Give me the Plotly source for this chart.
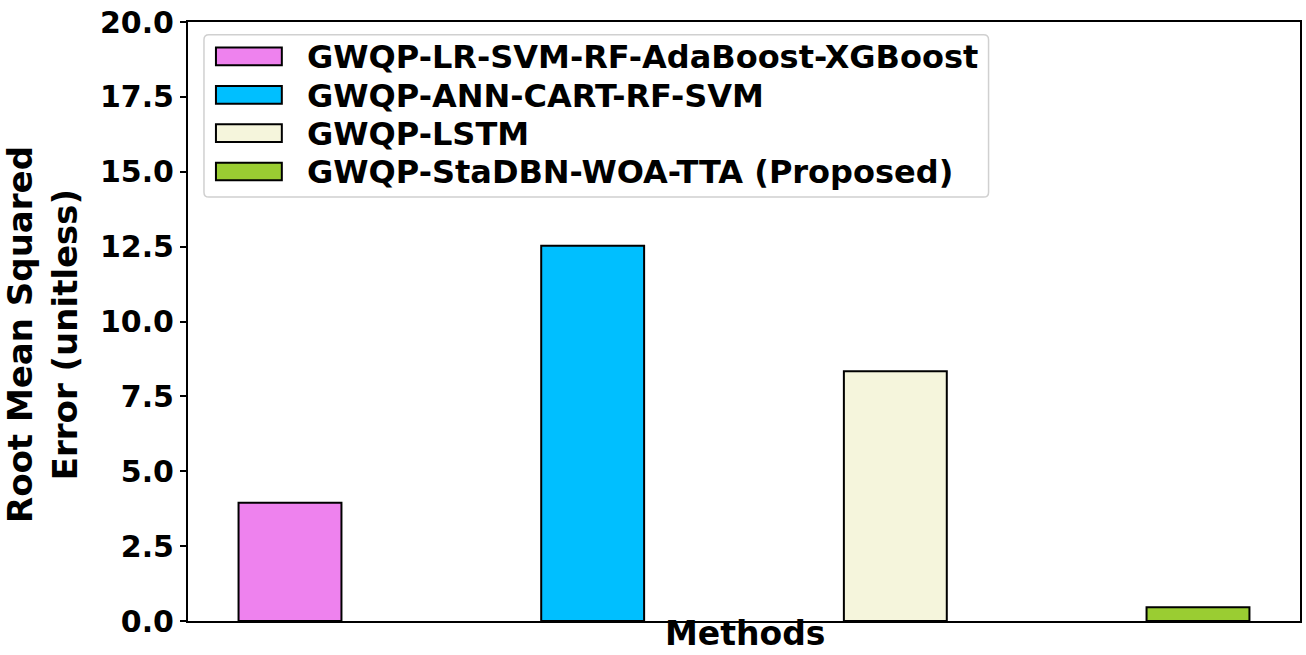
"""RMSE comparison of groundwater quality prediction methods."""

import plotly.graph_objects as go

# ---------------------------------------------------------------------------
# Data
# ---------------------------------------------------------------------------

methods = [
    "GWQP-LR-SVM-RF-AdaBoost-XGBoost",
    "GWQP-ANN-CART-RF-SVM",
    "GWQP-LSTM",
    "GWQP-StaDBN-WOA-TTA (Proposed)",
]
rmse = [3.95, 12.53, 8.34, 0.46]
colors = ["#EE82EE", "#00BFFF", "#F5F5DC", "#9ACD32"]
y_ticks = [0.0, 2.5, 5.0, 7.5, 10.0, 12.5, 15.0, 17.5, 20.0]

# ---------------------------------------------------------------------------
# Layout geometry (pixels of the 1306x655 page)
# ---------------------------------------------------------------------------

W, H = 1306, 655
PL, PR, PT, PB = 188, 1302, 12, 621
FONT = "DejaVu Sans"


def px_x(x):
    return (x - PL) / (PR - PL)


def px_y(y):
    return (PB - y) / (PB - PT)


def rounded_rect(x0, y0, x1, y1, r):
    """Rounded rectangle path in paper coords from pixel corners."""
    rx = r / (PR - PL)
    ry = r / (PB - PT)
    a, b, c, d = px_x(x0), px_y(y1), px_x(x1), px_y(y0)
    return (
        f"M{a + rx},{b} L{c - rx},{b} Q{c},{b} {c},{b + ry} "
        f"L{c},{d - ry} Q{c},{d} {c - rx},{d} L{a + rx},{d} "
        f"Q{a},{d} {a},{d - ry} L{a},{b + ry} Q{a},{b} {a + rx},{b} Z"
    )


fig = go.Figure()
for i, (name, val, col) in enumerate(zip(methods, rmse, colors)):
    fig.add_trace(go.Bar(
        x=[i],
        y=[val],
        name=name,
        width=0.34,
        marker=dict(color=col, line=dict(color="black", width=2)),
        showlegend=False,
    ))

# hand-built legend, matplotlib style
shapes = [dict(
    type="path", xref="paper", yref="paper",
    path=rounded_rect(204, 25, 990, 190, 5),
    line=dict(color="#d0d0d0", width=1.5),
    fillcolor="rgba(255,255,255,0.8)", layer="above",
)]
annotations = []
for k, (name, col) in enumerate(zip(methods, colors)):
    cy = 47 + 39 * k
    shapes.append(dict(
        type="rect", xref="paper", yref="paper",
        x0=px_x(216), x1=px_x(282), y0=px_y(cy + 9), y1=px_y(cy - 9),
        fillcolor=col, line=dict(color="black", width=2), layer="above",
    ))
    annotations.append(dict(
        xref="paper", yref="paper", x=px_x(305), y=px_y(cy + 1),
        xanchor="left", yanchor="middle", showarrow=False,
        text=f"<b>{name}</b>", font=dict(family=FONT, size=32, color="black"),
    ))

annotations.append(dict(
    xref="paper", yref="paper", x=px_x(42), y=px_y(330),
    xanchor="center", yanchor="middle", showarrow=False, textangle=-90,
    text="<b>Root Mean Squared<br>Error (unitless)</b>",
    font=dict(family=FONT, size=34, color="black"),
))
annotations.append(dict(
    xref="paper", yref="paper", x=px_x(746), y=px_y(H),
    xanchor="center", yanchor="bottom", showarrow=False, borderpad=0,
    text="<b>Methods</b>", font=dict(family=FONT, size=33, color="black"),
))

fig.update_layout(
    width=W,
    height=H,
    barmode="overlay",
    plot_bgcolor="white",
    paper_bgcolor="white",
    margin=dict(l=PL, r=W - PR, t=PT, b=H - PB, pad=0),
    shapes=shapes,
    annotations=annotations,
    xaxis=dict(
        range=[-0.337, 3.337], showticklabels=False, ticks="",
        showgrid=False, zeroline=False,
        showline=True, linecolor="black", linewidth=2, mirror=True,
    ),
    yaxis=dict(
        range=[0, 20], tickvals=y_ticks,
        ticktext=[f"<b>{v:.1f}</b>" for v in y_ticks],
        ticks="outside", ticklen=6, tickwidth=1.5, tickcolor="black",
        tickfont=dict(family=FONT, size=30, color="black"),
        ticklabeloverflow="allow",
        showgrid=False, zeroline=False,
        showline=True, linecolor="black", linewidth=2, mirror=True,
    ),
)

# drop the browser's default body margin so the figure sits at (0, 0)
fig.write_html(
    "out.html",
    config={"displayModeBar": False},
    post_script="document.body.style.margin = '0px';",
)
